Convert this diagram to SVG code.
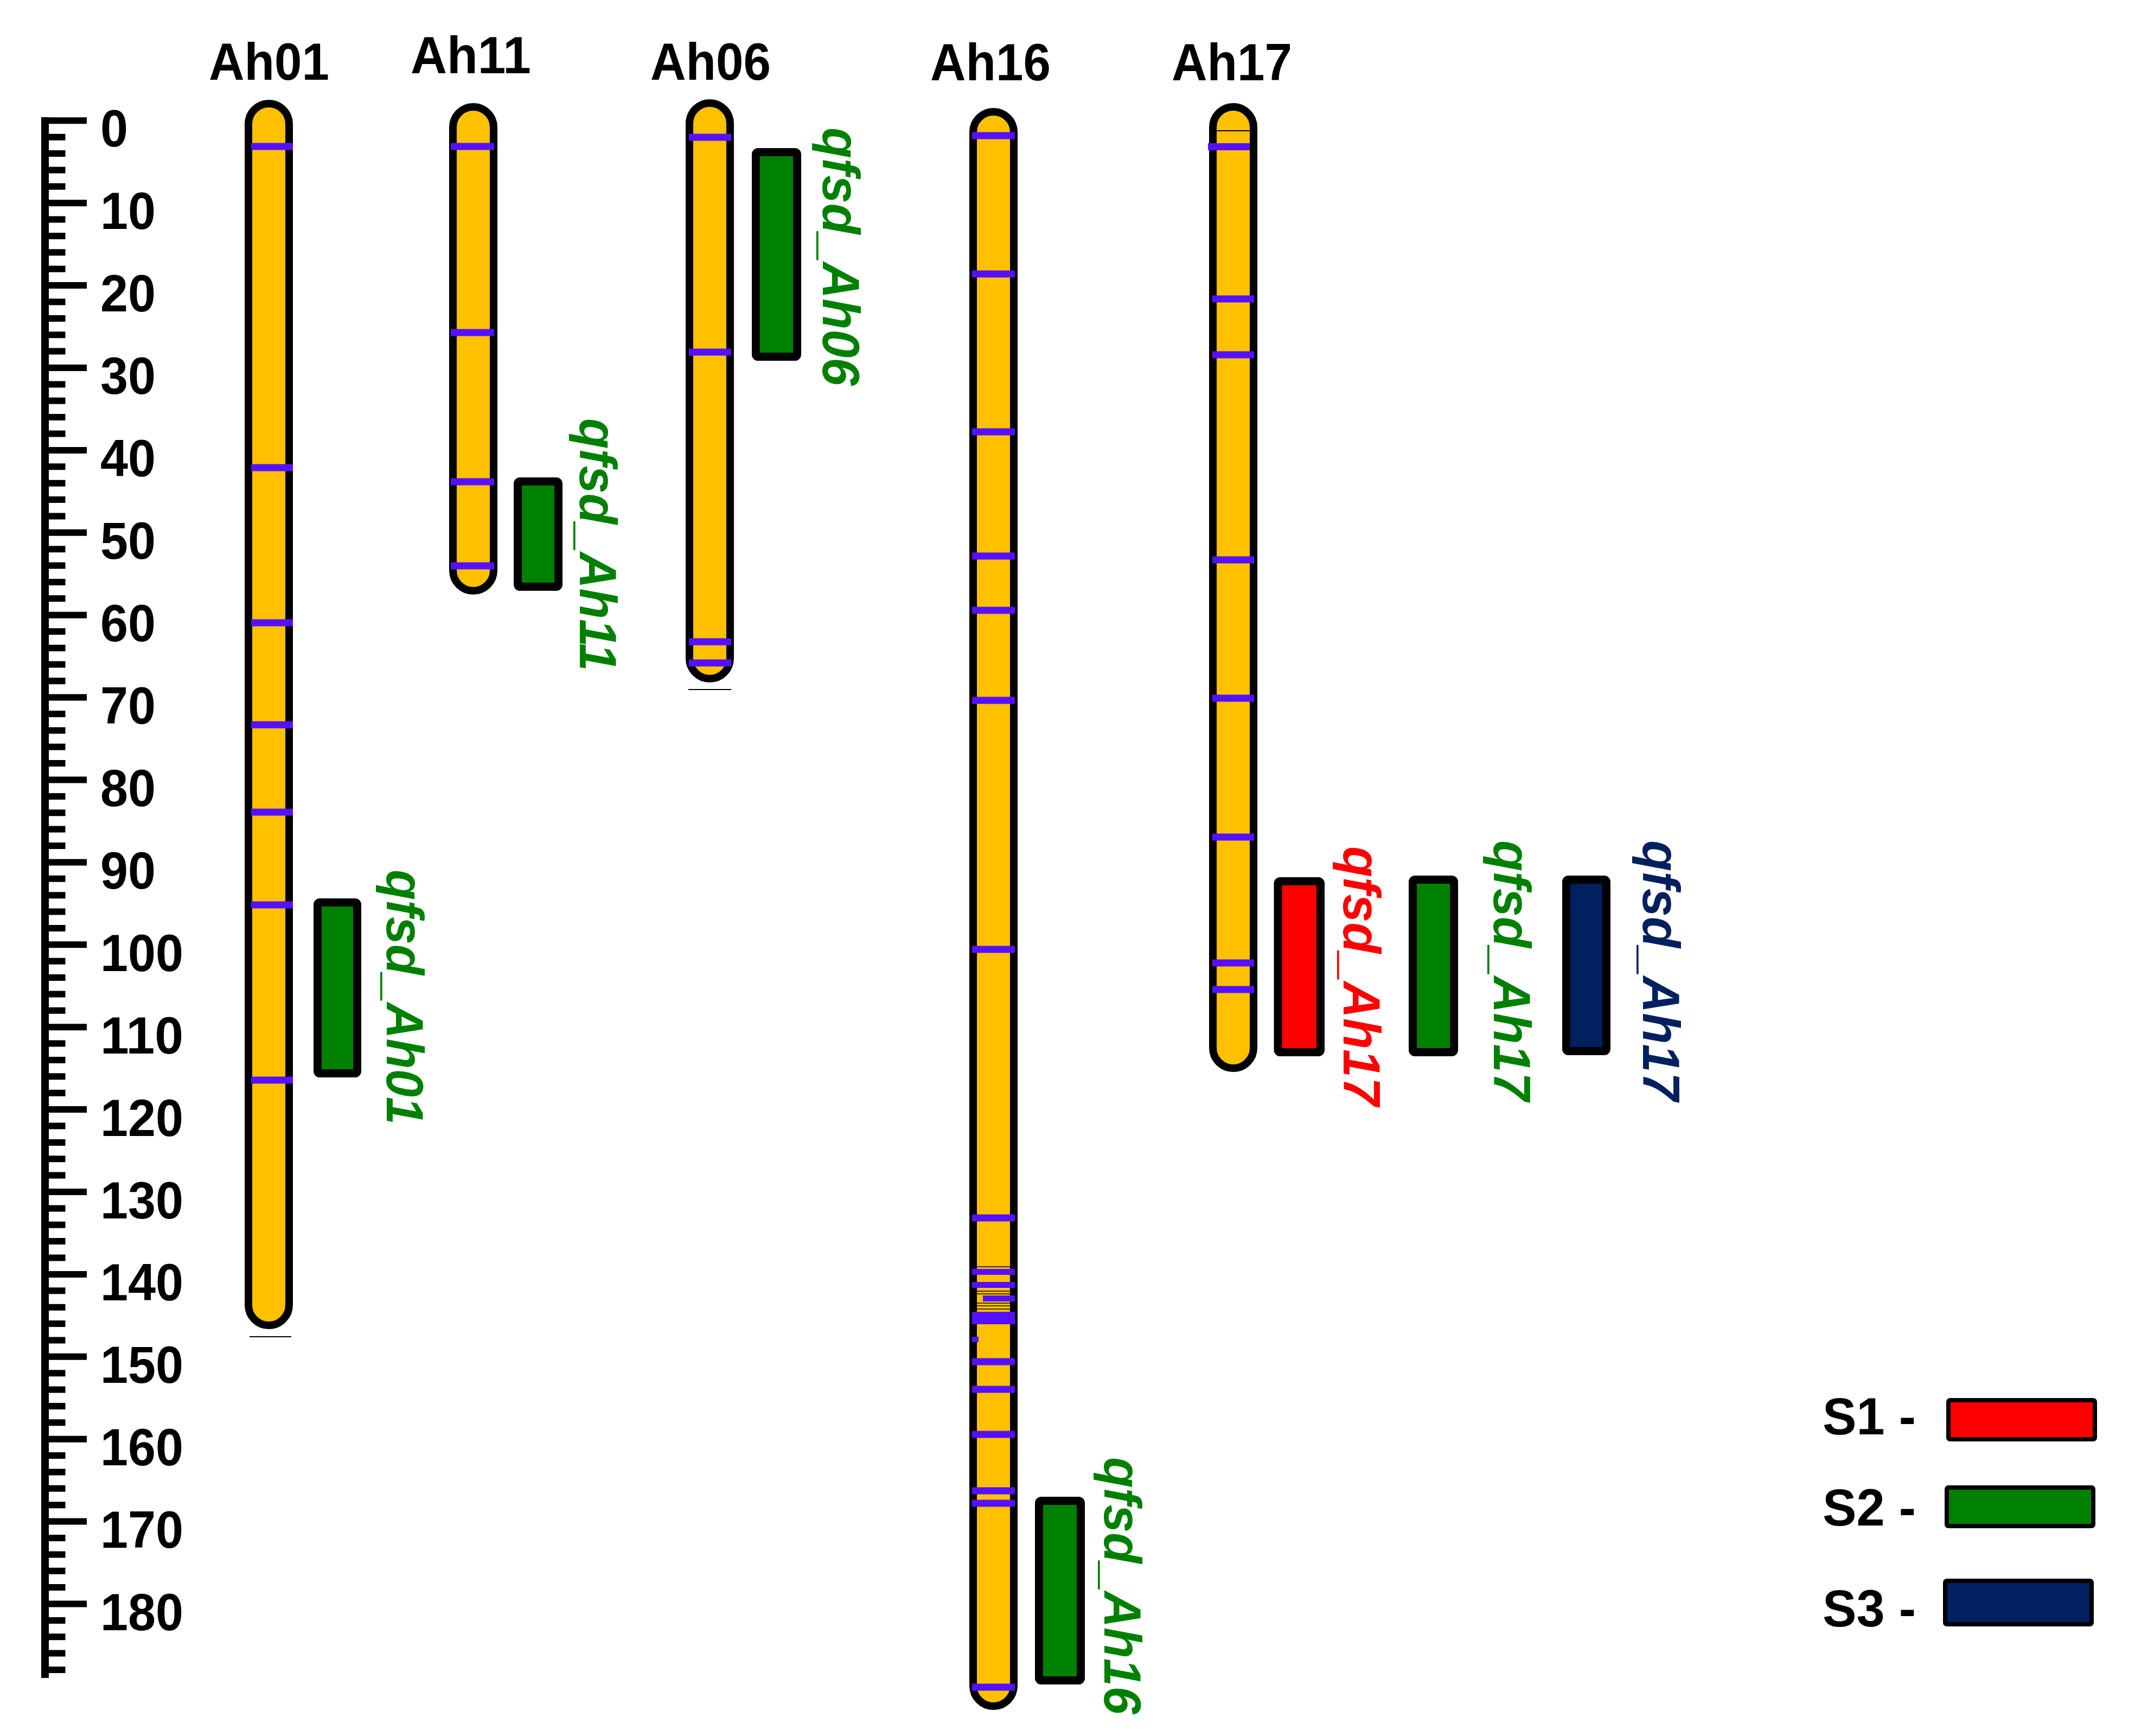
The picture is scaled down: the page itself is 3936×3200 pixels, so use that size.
<svg xmlns="http://www.w3.org/2000/svg" width="3936" height="3200" viewBox="0 0 3936 3200">
<style>
.t{font-family:"Liberation Sans",Arial,sans-serif;font-weight:bold;font-size:96px;fill:#000}
.q{font-family:"Liberation Sans",Arial,sans-serif;font-weight:bold;font-style:italic;font-size:96px}
.chr{fill:#FFC000;stroke:#000;stroke-width:14}
.mk{fill:#5511FF}
.box{stroke:#000;stroke-width:15}
.thin{stroke:#000;stroke-width:2}
.leg{stroke:#000;stroke-width:8}
</style>
<rect width="3936" height="3200" fill="#fff"/>
<g id="ruler">
<rect x="76" y="216" width="14" height="2877" fill="#000"/>
<path stroke="#000" stroke-width="12" fill="none" d="M83 222.3H160M83 374.2H160M83 526.1H160M83 678H160M83 829.9H160M83 981.8H160M83 1133.7H160M83 1285.6H160M83 1437.5H160M83 1589.4H160M83 1741.3H160M83 1893.2H160M83 2045.1H160M83 2197H160M83 2348.9H160M83 2500.8H160M83 2652.7H160M83 2804.6H160M83 2956.5H160"/>
<path stroke="#000" stroke-width="12" fill="none" d="M83 252.7H120.5M83 283.1H120.5M83 313.4H120.5M83 343.8H120.5M83 404.6H120.5M83 435H120.5M83 465.3H120.5M83 495.7H120.5M83 556.5H120.5M83 586.9H120.5M83 617.2H120.5M83 647.6H120.5M83 708.4H120.5M83 738.8H120.5M83 769.1H120.5M83 799.5H120.5M83 860.3H120.5M83 890.7H120.5M83 921H120.5M83 951.4H120.5M83 1012.2H120.5M83 1042.6H120.5M83 1072.9H120.5M83 1103.3H120.5M83 1164.1H120.5M83 1194.5H120.5M83 1224.8H120.5M83 1255.2H120.5M83 1316H120.5M83 1346.4H120.5M83 1376.7H120.5M83 1407.1H120.5M83 1467.9H120.5M83 1498.3H120.5M83 1528.6H120.5M83 1559H120.5M83 1619.8H120.5M83 1650.2H120.5M83 1680.5H120.5M83 1710.9H120.5M83 1771.7H120.5M83 1802.1H120.5M83 1832.4H120.5M83 1862.8H120.5M83 1923.6H120.5M83 1954H120.5M83 1984.3H120.5M83 2014.7H120.5M83 2075.5H120.5M83 2105.9H120.5M83 2136.2H120.5M83 2166.6H120.5M83 2227.4H120.5M83 2257.8H120.5M83 2288.1H120.5M83 2318.5H120.5M83 2379.3H120.5M83 2409.7H120.5M83 2440H120.5M83 2470.4H120.5M83 2531.2H120.5M83 2561.6H120.5M83 2591.9H120.5M83 2622.3H120.5M83 2683.1H120.5M83 2713.5H120.5M83 2743.8H120.5M83 2774.2H120.5M83 2835H120.5M83 2865.4H120.5M83 2895.7H120.5M83 2926.1H120.5M83 2986.9H120.5M83 3017.3H120.5M83 3047.6H120.5M83 3078H120.5"/>
<g class="t" lengthAdjust="spacingAndGlyphs">
<text x="185" y="270" textLength="51" lengthAdjust="spacingAndGlyphs">0</text>
<text x="185" y="422" textLength="102" lengthAdjust="spacingAndGlyphs">10</text>
<text x="185" y="574" textLength="102" lengthAdjust="spacingAndGlyphs">20</text>
<text x="185" y="726" textLength="102" lengthAdjust="spacingAndGlyphs">30</text>
<text x="185" y="878" textLength="102" lengthAdjust="spacingAndGlyphs">40</text>
<text x="185" y="1030" textLength="102" lengthAdjust="spacingAndGlyphs">50</text>
<text x="185" y="1182" textLength="102" lengthAdjust="spacingAndGlyphs">60</text>
<text x="185" y="1334" textLength="102" lengthAdjust="spacingAndGlyphs">70</text>
<text x="185" y="1486" textLength="102" lengthAdjust="spacingAndGlyphs">80</text>
<text x="185" y="1638" textLength="102" lengthAdjust="spacingAndGlyphs">90</text>
<text x="185" y="1790" textLength="153" lengthAdjust="spacingAndGlyphs">100</text>
<text x="185" y="1942" textLength="153" lengthAdjust="spacingAndGlyphs">110</text>
<text x="185" y="2094" textLength="153" lengthAdjust="spacingAndGlyphs">120</text>
<text x="185" y="2246" textLength="153" lengthAdjust="spacingAndGlyphs">130</text>
<text x="185" y="2397" textLength="153" lengthAdjust="spacingAndGlyphs">140</text>
<text x="185" y="2549" textLength="153" lengthAdjust="spacingAndGlyphs">150</text>
<text x="185" y="2701" textLength="153" lengthAdjust="spacingAndGlyphs">160</text>
<text x="185" y="2853" textLength="153" lengthAdjust="spacingAndGlyphs">170</text>
<text x="185" y="3005" textLength="153" lengthAdjust="spacingAndGlyphs">180</text>
</g>
</g>
<g id="Ah01">
<text class="t" x="496" y="147" text-anchor="middle" textLength="222" lengthAdjust="spacingAndGlyphs">Ah01</text>
<rect class="chr" x="458" y="191" width="75" height="2252" rx="37.5"/>
<g class="mk">
<rect x="463" y="263.5" width="77" height="13"/>
<rect x="463" y="855.5" width="77" height="13"/>
<rect x="463" y="1141.5" width="77" height="13"/>
<rect x="463" y="1329.5" width="77" height="13"/>
<rect x="463" y="1490.5" width="77" height="13"/>
<rect x="463" y="1661.5" width="77" height="13"/>
<rect x="463" y="1984.5" width="77" height="13"/>
</g>
<line class="thin" x1="460" y1="2464" x2="537" y2="2464"/>
<rect class="box" x="585.5" y="1663.5" width="73" height="315" rx="4" fill="#008000"/>
<text class="q" fill="#008000" transform="translate(713 1603) rotate(90)" textLength="470" lengthAdjust="spacingAndGlyphs">qfsd_Ah01</text>
</g>
<g id="Ah11">
<text class="t" x="868" y="135" text-anchor="middle" textLength="222" lengthAdjust="spacingAndGlyphs">Ah11</text>
<rect class="chr" x="835" y="197" width="75" height="892" rx="37.5"/>
<g class="mk">
<rect x="831" y="263.5" width="80" height="13"/>
<rect x="831" y="606.5" width="80" height="13"/>
<rect x="831" y="881.5" width="80" height="13"/>
<rect x="831" y="1036.5" width="80" height="13"/>
</g>
<rect class="box" x="954.5" y="887.5" width="75" height="194" rx="4" fill="#008000"/>
<text class="q" fill="#008000" transform="translate(1069 771) rotate(90)" textLength="466" lengthAdjust="spacingAndGlyphs">qfsd_Ah11</text>
</g>
<g id="Ah06">
<text class="t" x="1310" y="147" text-anchor="middle" textLength="222" lengthAdjust="spacingAndGlyphs">Ah06</text>
<rect class="chr" x="1271" y="190" width="75" height="1061" rx="37.5"/>
<g class="mk">
<rect x="1270" y="246.5" width="78" height="13"/>
<rect x="1270" y="642.5" width="78" height="13"/>
<rect x="1270" y="1176.5" width="78" height="13"/>
<rect x="1270" y="1215.5" width="78" height="13"/>
</g>
<line class="thin" x1="1269" y1="1271" x2="1348" y2="1271"/>
<rect class="box" x="1393.5" y="280.5" width="76" height="377" rx="4" fill="#008000"/>
<text class="q" fill="#008000" transform="translate(1517 235) rotate(90)" textLength="476" lengthAdjust="spacingAndGlyphs">qfsd_Ah06</text>
</g>
<g id="Ah16">
<text class="t" x="1826" y="148" text-anchor="middle" textLength="222" lengthAdjust="spacingAndGlyphs">Ah16</text>
<rect class="chr" x="1794" y="206" width="75" height="2939" rx="37.5"/>
<g stroke="#000" stroke-width="1.5">
<line x1="1799" y1="2335" x2="1863" y2="2335"/>
<line x1="1799" y1="2380" x2="1863" y2="2380"/>
<line x1="1799" y1="2385" x2="1863" y2="2385"/>
<line x1="1799" y1="2402" x2="1863" y2="2402"/>
<line x1="1799" y1="2407" x2="1863" y2="2407"/>
<line x1="1799" y1="2413" x2="1863" y2="2413"/>
</g>
<g class="mk">
<rect x="1792" y="243.5" width="79" height="13"/>
<rect x="1792" y="498.5" width="79" height="13"/>
<rect x="1792" y="789.5" width="79" height="13"/>
<rect x="1792" y="1018.5" width="79" height="13"/>
<rect x="1792" y="1118.5" width="79" height="13"/>
<rect x="1792" y="1284.5" width="79" height="13"/>
<rect x="1792" y="1743.5" width="79" height="13"/>
<rect x="1792" y="2238.5" width="79" height="13"/>
<rect x="1792" y="2339" width="79" height="11"/>
<rect x="1792" y="2363" width="79" height="11"/>
<rect x="1812" y="2388" width="59" height="11"/>
<rect x="1792" y="2418" width="79" height="23"/>
<rect x="1792" y="2464" width="12" height="10"/>
<rect x="1792" y="2503.5" width="79" height="13"/>
<rect x="1792" y="2554.5" width="79" height="13"/>
<rect x="1792" y="2637.5" width="79" height="13"/>
<rect x="1792" y="2741.5" width="79" height="13"/>
<rect x="1792" y="2764.5" width="79" height="13"/>
<rect x="1792" y="3103.5" width="79" height="13"/>
</g>
<rect class="box" x="1915.5" y="2766.5" width="77" height="331" rx="4" fill="#008000"/>
<text class="q" fill="#008000" transform="translate(2036 2686) rotate(90)" textLength="474" lengthAdjust="spacingAndGlyphs">qfsd_Ah16</text>
</g>
<g id="Ah17">
<text class="t" x="2271" y="148" text-anchor="middle" textLength="222" lengthAdjust="spacingAndGlyphs">Ah17</text>
<rect class="chr" x="2236" y="197" width="75" height="1772" rx="37.5"/>
<line class="thin" x1="2242" y1="241" x2="2305" y2="241"/>
<g class="mk">
<rect x="2227" y="264" width="77" height="13"/>
<rect x="2235" y="544.5" width="77" height="13"/>
<rect x="2235" y="647.5" width="77" height="13"/>
<rect x="2235" y="1025.5" width="77" height="13"/>
<rect x="2235" y="1280.5" width="77" height="13"/>
<rect x="2235" y="1536.5" width="77" height="13"/>
<rect x="2235" y="1768.5" width="77" height="13"/>
<rect x="2235" y="1817.5" width="77" height="13"/>
</g>
<rect class="box" x="2356" y="1624.5" width="78.5" height="315" rx="4" fill="#FF0000"/>
<text class="q" fill="#FF0000" transform="translate(2477 1560) rotate(90)" textLength="478" lengthAdjust="spacingAndGlyphs">qfsd_Ah17</text>
<rect class="box" x="2604.5" y="1621.5" width="76" height="318" rx="4" fill="#008000"/>
<text class="q" fill="#008000" transform="translate(2754 1549) rotate(90)" textLength="480" lengthAdjust="spacingAndGlyphs">qfsd_Ah17</text>
<rect class="box" x="2887.5" y="1621.5" width="74" height="316" rx="4" fill="#002060"/>
<text class="q" fill="#002060" transform="translate(3029 1549) rotate(90)" textLength="480" lengthAdjust="spacingAndGlyphs">qfsd_Ah17</text>
</g>
<g id="legend">
<text class="t" x="3360" y="2644" textLength="172" lengthAdjust="spacingAndGlyphs">S1 -</text>
<rect class="leg" x="3592" y="2581" width="270" height="72" rx="3" fill="#FF0000"/>
<text class="t" x="3360" y="2812" textLength="172" lengthAdjust="spacingAndGlyphs">S2 -</text>
<rect class="leg" x="3589" y="2742" width="270" height="71" rx="3" fill="#008000"/>
<text class="t" x="3360" y="2998" textLength="172" lengthAdjust="spacingAndGlyphs">S3 -</text>
<rect class="leg" x="3586" y="2914" width="270" height="80" rx="3" fill="#002060"/>
</g>
<g id="connectors"/>
</svg>
